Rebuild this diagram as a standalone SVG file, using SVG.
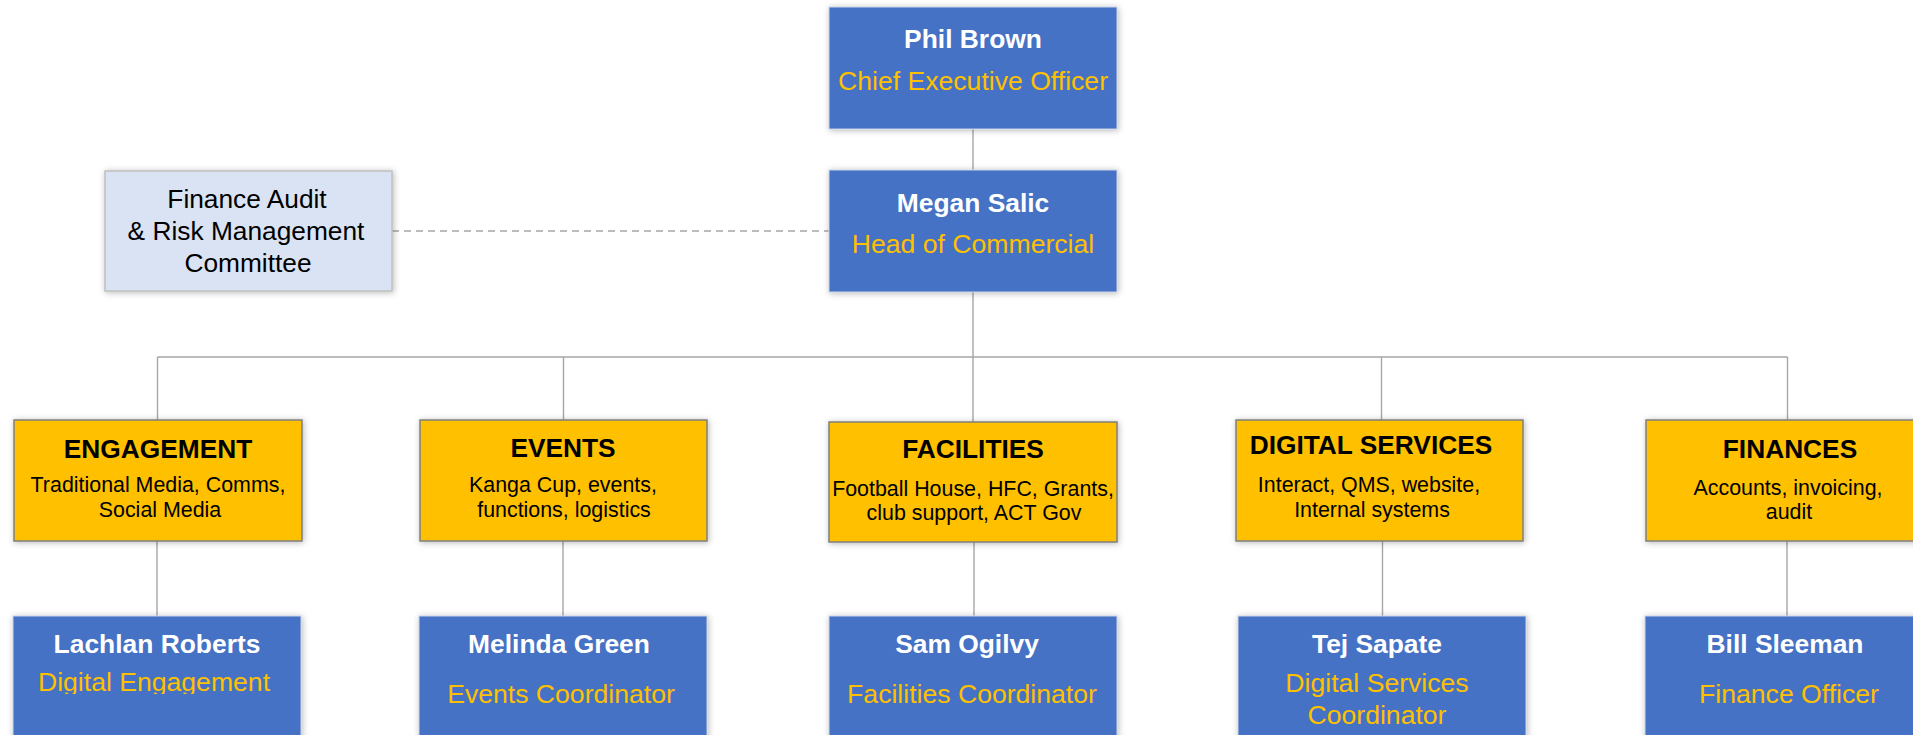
<svg xmlns="http://www.w3.org/2000/svg" width="1913" height="735" viewBox="0 0 1913 735">
<defs>
<filter id="sh" x="-10%" y="-10%" width="120%" height="120%">
<feDropShadow dx="1" dy="1" stdDeviation="3" flood-color="#000" flood-opacity="0.28"/>
</filter>
<clipPath id="clipLR"><rect x="13" y="616" width="288" height="78"/></clipPath>
<style>
text{font-family:"Liberation Sans",Arial,sans-serif;text-anchor:middle}
.blue{fill:#4472C4;stroke:#c9d3e6;stroke-width:1;filter:url(#sh)}
.org{fill:#FFC000;stroke:#7f7f7f;stroke-width:1.5;filter:url(#sh)}
.aud{fill:#DAE3F3;stroke:#bfbfbf;stroke-width:1.5;filter:url(#sh)}
.name{font-size:26.4px;font-weight:bold;fill:#fff}
.role{font-size:26.6px;fill:#FFC000}
.ttl{font-size:26.3px;font-weight:bold;fill:#000}
.sub{font-size:21.4px;fill:#000}
.aut{font-size:26.3px;fill:#000}
.ln{stroke:#a6a6a6;stroke-width:1.4;fill:none}
.dash{stroke:#a6a6a6;stroke-width:1.6;fill:none;stroke-dasharray:7,5}
</style>
</defs>
<g id="connectors">
<line class="ln" x1="973" y1="129" x2="973" y2="170"/>
<line class="ln" x1="973" y1="292" x2="973" y2="357"/>
<line class="ln" x1="157.5" y1="357" x2="1787.5" y2="357"/>
<line class="ln" x1="157.5" y1="357" x2="157.5" y2="420"/>
<line class="ln" x1="563.5" y1="357" x2="563.5" y2="420"/>
<line class="ln" x1="973" y1="357" x2="973" y2="422"/>
<line class="ln" x1="1381.5" y1="357" x2="1381.5" y2="420"/>
<line class="ln" x1="1787.5" y1="357" x2="1787.5" y2="420"/>
<line class="ln" x1="157" y1="541" x2="157" y2="616"/>
<line class="ln" x1="563" y1="541" x2="563" y2="616"/>
<line class="ln" x1="974" y1="542" x2="974" y2="616"/>
<line class="ln" x1="1382.5" y1="541" x2="1382.5" y2="616"/>
<line class="ln" x1="1787" y1="541" x2="1787" y2="616"/>
<line class="dash" x1="392" y1="231" x2="829" y2="231"/>
</g>
<g id="phil">
<rect class="blue" x="829" y="7" width="288" height="122"/>
<text class="name" x="973" y="48">Phil Brown</text>
<text class="role" x="973" y="90">Chief Executive Officer</text>
</g>
<g id="megan">
<rect class="blue" x="829" y="170" width="288" height="122"/>
<text class="name" x="973" y="212">Megan Salic</text>
<text class="role" x="973" y="253">Head of Commercial</text>
</g>
<g id="audit">
<rect class="aud" x="105" y="171" width="287" height="120"/>
<text class="aut" x="247" y="208">Finance Audit</text>
<text class="aut" x="246" y="240">&amp; Risk Management</text>
<text class="aut" x="248" y="272">Committee</text>
</g>
<g id="engagement">
<rect class="org" x="14" y="420" width="288" height="121"/>
<text class="ttl" x="158" y="458">ENGAGEMENT</text>
<text class="sub" x="158" y="492">Traditional Media, Comms,</text>
<text class="sub" x="160" y="517">Social Media</text>
</g>
<g id="events">
<rect class="org" x="420" y="420" width="287" height="121"/>
<text class="ttl" x="563" y="457">EVENTS</text>
<text class="sub" x="563" y="492">Kanga Cup, events,</text>
<text class="sub" x="564" y="517">functions, logistics</text>
</g>
<g id="facilities">
<rect class="org" x="829" y="422" width="288" height="120"/>
<text class="ttl" x="973" y="458">FACILITIES</text>
<text class="sub" x="973" y="496">Football House, HFC, Grants,</text>
<text class="sub" x="974" y="520">club support, ACT Gov</text>
</g>
<g id="digital">
<rect class="org" x="1236" y="420" width="287" height="121"/>
<text class="ttl" x="1371" y="454">DIGITAL SERVICES</text>
<text class="sub" x="1369" y="492">Interact, QMS, website,</text>
<text class="sub" x="1372" y="517">Internal systems</text>
</g>
<g id="finances">
<rect class="org" x="1646" y="420" width="288" height="121"/>
<text class="ttl" x="1790" y="458">FINANCES</text>
<text class="sub" x="1788" y="495">Accounts, invoicing,</text>
<text class="sub" x="1789" y="519">audit</text>
</g>
<g id="lachlan">
<rect class="blue" x="13" y="616" width="288" height="125"/>
<text class="name" x="157" y="653">Lachlan Roberts</text>
<text class="role" x="154" y="691" clip-path="url(#clipLR)">Digital Engagement</text>
</g>
<g id="melinda">
<rect class="blue" x="419" y="616" width="288" height="125"/>
<text class="name" x="559" y="653">Melinda Green</text>
<text class="role" x="561" y="703">Events Coordinator</text>
</g>
<g id="sam">
<rect class="blue" x="829" y="616" width="288" height="125"/>
<text class="name" x="967" y="653">Sam Ogilvy</text>
<text class="role" x="972" y="703">Facilities Coordinator</text>
</g>
<g id="tej">
<rect class="blue" x="1238" y="616" width="288" height="125"/>
<text class="name" x="1377" y="653">Tej Sapate</text>
<text class="role" x="1377" y="692">Digital Services</text>
<text class="role" x="1377" y="724">Coordinator</text>
</g>
<g id="bill">
<rect class="blue" x="1645" y="616" width="288" height="125"/>
<text class="name" x="1785" y="653">Bill Sleeman</text>
<text class="role" x="1789" y="703">Finance Officer</text>
</g>
</svg>
